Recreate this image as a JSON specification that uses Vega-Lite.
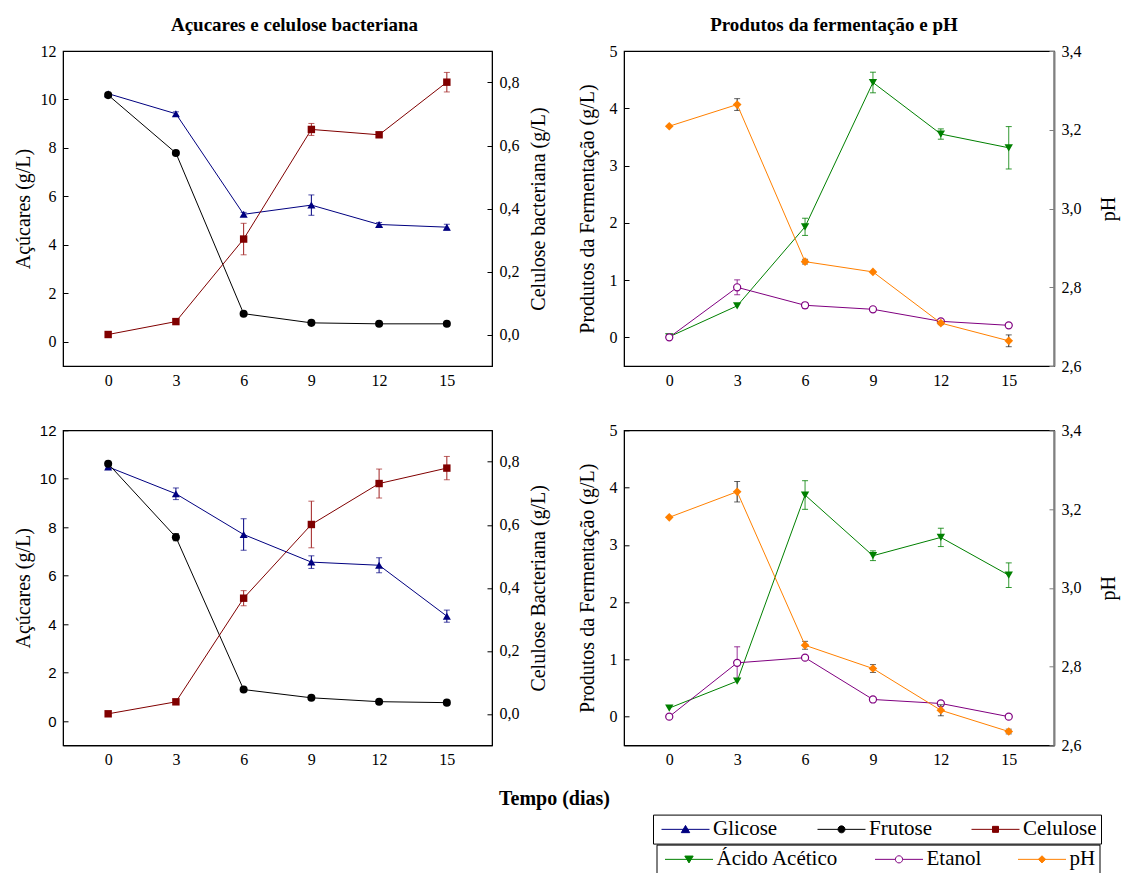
{
  "$schema": "https://vega.github.io/schema/vega-lite/v6.json",
  "padding": {"left": 12, "top": 15, "right": 5, "bottom": 5},
  "background": "white",
  "datasets": {
    "d": [
      {"conc":"7,5%","dia":0,"serie":"Glicose","valor":10.24,"erro":0.05},
      {"conc":"7,5%","dia":3,"serie":"Glicose","valor":9.41,"erro":0.08},
      {"conc":"7,5%","dia":6,"serie":"Glicose","valor":5.26,"erro":0.08},
      {"conc":"7,5%","dia":9,"serie":"Glicose","valor":5.64,"erro":0.42},
      {"conc":"7,5%","dia":12,"serie":"Glicose","valor":4.84,"erro":0.08},
      {"conc":"7,5%","dia":15,"serie":"Glicose","valor":4.73,"erro":0.12},
      {"conc":"7,5%","dia":0,"serie":"Frutose","valor":10.18,"erro":0.05},
      {"conc":"7,5%","dia":3,"serie":"Frutose","valor":7.79,"erro":0.06},
      {"conc":"7,5%","dia":6,"serie":"Frutose","valor":1.16,"erro":0.04},
      {"conc":"7,5%","dia":9,"serie":"Frutose","valor":0.78,"erro":0},
      {"conc":"7,5%","dia":12,"serie":"Frutose","valor":0.74,"erro":0},
      {"conc":"7,5%","dia":15,"serie":"Frutose","valor":0.74,"erro":0},
      {"conc":"7,5%","dia":0,"serie":"Celulose","valor":0.0,"erro":0},
      {"conc":"7,5%","dia":3,"serie":"Celulose","valor":0.041,"erro":0},
      {"conc":"7,5%","dia":6,"serie":"Celulose","valor":0.303,"erro":0.05},
      {"conc":"7,5%","dia":9,"serie":"Celulose","valor":0.651,"erro":0.019},
      {"conc":"7,5%","dia":12,"serie":"Celulose","valor":0.634,"erro":0.005},
      {"conc":"7,5%","dia":15,"serie":"Celulose","valor":0.801,"erro":0.031},
      {"conc":"7,5%","dia":0,"serie":"Ácido Acético","valor":0.01,"erro":0},
      {"conc":"7,5%","dia":3,"serie":"Ácido Acético","valor":0.55,"erro":0},
      {"conc":"7,5%","dia":6,"serie":"Ácido Acético","valor":1.93,"erro":0.15},
      {"conc":"7,5%","dia":9,"serie":"Ácido Acético","valor":4.45,"erro":0.18},
      {"conc":"7,5%","dia":12,"serie":"Ácido Acético","valor":3.55,"erro":0.09},
      {"conc":"7,5%","dia":15,"serie":"Ácido Acético","valor":3.31,"erro":0.37},
      {"conc":"7,5%","dia":0,"serie":"Etanol","valor":0.0,"erro":0},
      {"conc":"7,5%","dia":3,"serie":"Etanol","valor":0.874,"erro":0.13},
      {"conc":"7,5%","dia":6,"serie":"Etanol","valor":0.56,"erro":0.05},
      {"conc":"7,5%","dia":9,"serie":"Etanol","valor":0.49,"erro":0.04},
      {"conc":"7,5%","dia":12,"serie":"Etanol","valor":0.28,"erro":0.02},
      {"conc":"7,5%","dia":15,"serie":"Etanol","valor":0.21,"erro":0.02},
      {"conc":"7,5%","dia":0,"serie":"pH","valor":3.209,"erro":0},
      {"conc":"7,5%","dia":3,"serie":"pH","valor":3.264,"erro":0.015},
      {"conc":"7,5%","dia":6,"serie":"pH","valor":2.865,"erro":0.006},
      {"conc":"7,5%","dia":9,"serie":"pH","valor":2.839,"erro":0},
      {"conc":"7,5%","dia":12,"serie":"pH","valor":2.709,"erro":0.004},
      {"conc":"7,5%","dia":15,"serie":"pH","valor":2.664,"erro":0.015},
      {"conc":"10%","dia":0,"serie":"Glicose","valor":10.49,"erro":0.05},
      {"conc":"10%","dia":3,"serie":"Glicose","valor":9.38,"erro":0.24},
      {"conc":"10%","dia":6,"serie":"Glicose","valor":7.7,"erro":0.65},
      {"conc":"10%","dia":9,"serie":"Glicose","valor":6.56,"erro":0.26},
      {"conc":"10%","dia":12,"serie":"Glicose","valor":6.43,"erro":0.31},
      {"conc":"10%","dia":15,"serie":"Glicose","valor":4.33,"erro":0.25},
      {"conc":"10%","dia":0,"serie":"Frutose","valor":10.62,"erro":0},
      {"conc":"10%","dia":3,"serie":"Frutose","valor":7.59,"erro":0.15},
      {"conc":"10%","dia":6,"serie":"Frutose","valor":1.3,"erro":0.05},
      {"conc":"10%","dia":9,"serie":"Frutose","valor":0.96,"erro":0},
      {"conc":"10%","dia":12,"serie":"Frutose","valor":0.8,"erro":0},
      {"conc":"10%","dia":15,"serie":"Frutose","valor":0.76,"erro":0},
      {"conc":"10%","dia":0,"serie":"Celulose","valor":0.0,"erro":0},
      {"conc":"10%","dia":3,"serie":"Celulose","valor":0.038,"erro":0},
      {"conc":"10%","dia":6,"serie":"Celulose","valor":0.367,"erro":0.024},
      {"conc":"10%","dia":9,"serie":"Celulose","valor":0.601,"erro":0.074},
      {"conc":"10%","dia":12,"serie":"Celulose","valor":0.731,"erro":0.046},
      {"conc":"10%","dia":15,"serie":"Celulose","valor":0.78,"erro":0.037},
      {"conc":"10%","dia":0,"serie":"Ácido Acético","valor":0.15,"erro":0},
      {"conc":"10%","dia":3,"serie":"Ácido Acético","valor":0.62,"erro":0},
      {"conc":"10%","dia":6,"serie":"Ácido Acético","valor":3.87,"erro":0.25},
      {"conc":"10%","dia":9,"serie":"Ácido Acético","valor":2.81,"erro":0.085},
      {"conc":"10%","dia":12,"serie":"Ácido Acético","valor":3.13,"erro":0.16},
      {"conc":"10%","dia":15,"serie":"Ácido Acético","valor":2.47,"erro":0.215},
      {"conc":"10%","dia":0,"serie":"Etanol","valor":0.0,"erro":0},
      {"conc":"10%","dia":3,"serie":"Etanol","valor":0.94,"erro":0.28},
      {"conc":"10%","dia":6,"serie":"Etanol","valor":1.03,"erro":0.03},
      {"conc":"10%","dia":9,"serie":"Etanol","valor":0.3,"erro":0.03},
      {"conc":"10%","dia":12,"serie":"Etanol","valor":0.23,"erro":0.02},
      {"conc":"10%","dia":15,"serie":"Etanol","valor":0.0,"erro":0},
      {"conc":"10%","dia":0,"serie":"pH","valor":3.179,"erro":0},
      {"conc":"10%","dia":3,"serie":"pH","valor":3.244,"erro":0.026},
      {"conc":"10%","dia":6,"serie":"pH","valor":2.854,"erro":0.01},
      {"conc":"10%","dia":9,"serie":"pH","valor":2.795,"erro":0.01},
      {"conc":"10%","dia":12,"serie":"pH","valor":2.689,"erro":0.014},
      {"conc":"10%","dia":15,"serie":"pH","valor":2.635,"erro":0.006}
    ]
  },
  "data": {"name": "d"},
  "columns": 2,
  "spacing": {"row": 64.3, "column": 132},
  "bounds": "flush",
  "resolve": {"scale": {"color": "independent", "shape": "independent"}, "legend": {"color": "independent"}},
  "concat": [
    {
      "width": 429, "height": 315,
      "title": {"text": "Açucares e celulose bacteriana", "dx": 17, "offset": -7, "baseline": "alphabetic", "frame": "group", "anchor": "middle"},
      "encoding": {
        "x": {"field": "dia", "type": "quantitative", "scale": {"domain": [-2, 17], "nice": false, "zero": false},
              "axis": {"values": [0,3,6,9,12,15], "ticks": false, "labelPadding": 6, "title": null}}
      },
      "layer": [
        {
          "transform": [{"filter": "datum.conc === '7,5%' && (datum.serie === 'Glicose' || datum.serie === 'Frutose')"}],
          "encoding": {
            "y": {"field": "valor", "type": "quantitative", "scale": {"domain": [-1, 12], "nice": false, "zero": false},
                  "axis": {"orient": "left", "values": [0,2,4,6,8,10,12], "tickSize": -5, "labelPadding": 12, "title": "Açúcares (g/L)", "titleX": -40, "titleY": 157.5, "titleAngle": -90, "titleBaseline": "middle", "titleAlign": "center"}},
            "color": {"field": "serie", "type": "nominal", "scale": {"domain": ["Glicose","Frutose","Celulose"], "range": ["#000080","#000000","#800000"]}, "legend": null}
          },
          "layer": [
            {"transform": [{"filter": "datum.erro > 0"}], "mark": {"type": "errorbar", "ticks": {"size": 6}, "thickness": 1}, "encoding": {"yError": {"field": "erro"}}},
            {"mark": {"type": "line", "strokeWidth": 1}},
            {"mark": {"type": "point", "filled": true, "size": 65, "opacity": 1}, "encoding": {"shape": {"field": "serie", "type": "nominal", "scale": {"domain": ["Glicose","Frutose"], "range": ["triangle-up","circle"]}, "legend": null}}},
            {"data": {"values": [{"rotulo": "7,5%"}]}, "mark": {"type": "text", "align": "left", "baseline": "alphabetic", "fontSize": 20, "fontWeight": "bold", "font": "Liberation Serif"},
             "encoding": {"x": {"datum": -1.3}, "y": {"datum": 10.91}, "text": {"field": "rotulo"}, "color": {"value": "black"}}}
          ]
        },
        {
          "transform": [{"filter": "datum.conc === '7,5%' && datum.serie === 'Celulose'"}],
          "encoding": {
            "y": {"field": "valor", "type": "quantitative", "scale": {"domain": [-0.1, 0.9], "nice": false, "zero": false},
                  "axis": {"orient": "right", "values": [0,0.2,0.4,0.6,0.8], "format": ".1f", "labelExpr": "replace(datum.label, '.', ',')", "tickSize": -5, "labelPadding": 12, "title": "Celulose bacteriana (g/L)", "titleX": 46, "titleY": 157.5, "titleAngle": -90, "titleBaseline": "middle", "titleAlign": "center"}}
          },
          "layer": [
            {"transform": [{"filter": "datum.erro > 0"}], "mark": {"type": "errorbar", "ticks": {"size": 6}, "thickness": 1, "color": "#A02020"}, "encoding": {"yError": {"field": "erro"}}},
            {"mark": {"type": "line", "strokeWidth": 1, "color": "#800000"}},
            {"mark": {"type": "point", "filled": true, "size": 55, "shape": "square", "color": "#800000", "opacity": 1}}
          ]
        }
      ],
      "resolve": {"scale": {"y": "independent"}}
    },
    {
      "width": 430, "height": 315,
      "title": {"text": "Produtos da fermentação e pH", "dx": -5, "offset": -7, "baseline": "alphabetic", "frame": "group", "anchor": "middle"},
      "encoding": {
        "x": {"field": "dia", "type": "quantitative", "scale": {"domain": [-2, 17], "nice": false, "zero": false},
              "axis": {"values": [0,3,6,9,12,15], "ticks": false, "labelPadding": 6, "title": null}}
      },
      "layer": [
        {
          "transform": [{"filter": "datum.conc === '7,5%' && (datum.serie === 'Ácido Acético' || datum.serie === 'Etanol')"}],
          "encoding": {
            "y": {"field": "valor", "type": "quantitative", "scale": {"domain": [-0.5, 5], "nice": false, "zero": false},
                  "axis": {"orient": "left", "values": [0,1,2,3,4,5], "tickSize": -5, "labelPadding": 12, "title": "Produtos da Fermentação (g/L)", "titleX": -36.5, "titleY": 157.5, "titleAngle": -90, "titleBaseline": "middle", "titleAlign": "center"}},
            "color": {"field": "serie", "type": "nominal", "scale": {"domain": ["Ácido Acético","Etanol","pH"], "range": ["#008000","#800080","#FF8000"]}, "legend": null}
          },
          "layer": [
            {"transform": [{"filter": "datum.erro > 0"}], "mark": {"type": "errorbar", "ticks": {"size": 6}, "thickness": 1, "opacity": 0.8}, "encoding": {"yError": {"field": "erro"}}},
            {"mark": {"type": "line", "strokeWidth": 1}},
            {"transform": [{"filter": "datum.serie === 'Ácido Acético'"}], "mark": {"type": "point", "filled": true, "shape": "triangle-down", "size": 70, "opacity": 1}},
            {"transform": [{"filter": "datum.serie === 'Etanol'"}], "mark": {"type": "point", "filled": false, "fill": "white", "shape": "circle", "size": 50, "strokeWidth": 1.2, "opacity": 1}},
            {"data": {"values": [{"rotulo": "7,5%"}]}, "mark": {"type": "text", "align": "left", "baseline": "alphabetic", "fontSize": 20, "fontWeight": "bold", "font": "Liberation Serif"},
             "encoding": {"x": {"datum": -1.19}, "y": {"datum": 4.546}, "text": {"field": "rotulo"}, "color": {"value": "black"}}}
          ]
        },
        {
          "transform": [{"filter": "datum.conc === '7,5%' && datum.serie === 'pH'"}],
          "encoding": {
            "y": {"field": "valor", "type": "quantitative", "scale": {"domain": [2.6, 3.4], "nice": false, "zero": false},
                  "axis": {"orient": "right", "values": [2.6,2.8,3.0,3.2,3.4], "format": ".1f", "labelExpr": "replace(datum.label, '.', ',')", "tickSize": -5, "labelPadding": 12, "domainColor": "#808080", "domainWidth": 2, "tickColor": "#808080", "title": "pH", "titleX": 54, "titleY": 157.5, "titleAngle": -90, "titleBaseline": "middle", "titleAlign": "center"}}
          },
          "layer": [
            {"transform": [{"filter": "datum.erro > 0"}], "mark": {"type": "errorbar", "ticks": {"size": 6}, "thickness": 1, "color": "#222222"}, "encoding": {"yError": {"field": "erro"}}},
            {"mark": {"type": "line", "strokeWidth": 1, "color": "#FF8000"}},
            {"mark": {"type": "point", "filled": true, "size": 75, "shape": "diamond", "color": "#FF8000", "opacity": 1}}
          ]
        }
      ],
      "resolve": {"scale": {"y": "independent"}}
    },
    {
      "width": 429, "height": 315,
      "encoding": {
        "x": {"field": "dia", "type": "quantitative", "scale": {"domain": [-2, 17], "nice": false, "zero": false},
              "axis": {"values": [0,3,6,9,12,15], "ticks": false, "labelPadding": 6, "title": "Tempo (dias)", "titleX": 491, "titleY": 58.7, "titleBaseline": "alphabetic", "titleAlign": "center", "titleFontWeight": "bold", "titleFontSize": 20}}
      },
      "layer": [
        {
          "transform": [{"filter": "datum.conc === '10%' && (datum.serie === 'Glicose' || datum.serie === 'Frutose')"}],
          "encoding": {
            "y": {"field": "valor", "type": "quantitative", "scale": {"domain": [-1, 12], "nice": false, "zero": false},
                  "axis": {"orient": "left", "values": [0,2,4,6,8,10,12], "labelFont": "Liberation Sans", "labelFontSize": 15, "tickSize": -5, "labelPadding": 12, "title": "Açúcares (g/L)", "titleX": -40, "titleY": 157.5, "titleAngle": -90, "titleBaseline": "middle", "titleAlign": "center"}},
            "color": {"field": "serie", "type": "nominal", "scale": {"domain": ["Glicose","Frutose","Celulose"], "range": ["#000080","#000000","#800000"]},
              "legend": {"orient": "none", "legendX": 590, "legendY": 384.3, "direction": "horizontal", "title": null, "strokeColor": "black", "padding": 4,
                "labelFont": "Liberation Serif", "labelFontSize": 21, "labelColor": "black", "labelLimit": 300, "symbolSize": 144, "labelOffset": 35, "columnPadding": 35,
                "encode": {"symbols": {"update": {
                  "shape": {"signal": "datum.value === 'Glicose' ? 'M-1,0H7M3,-0.65L3.7,0.55L2.3,0.55Z' : datum.value === 'Frutose' ? 'M-1,0H7M3.58,0A0.58,0.58 0 1 1 2.42,0A0.58,0.58 0 1 1 3.58,0Z' : 'M-1,0H7M2.5,-0.5H3.5V0.5H2.5Z'"},
                  "fill": {"signal": "datum.value === 'Glicose' ? '#000080' : datum.value === 'Frutose' ? '#000000' : '#800000'"},
                  "stroke": {"signal": "datum.value === 'Glicose' ? '#000080' : datum.value === 'Frutose' ? '#000000' : '#800000'"},
                  "strokeWidth": {"value": 1}, "size": {"value": 144}, "opacity": {"value": 1}}}}}}
          },
          "layer": [
            {"transform": [{"filter": "datum.erro > 0"}], "mark": {"type": "errorbar", "ticks": {"size": 6}, "thickness": 1}, "encoding": {"yError": {"field": "erro"}}},
            {"mark": {"type": "line", "strokeWidth": 1}},
            {"mark": {"type": "point", "filled": true, "size": 65, "opacity": 1}, "encoding": {"shape": {"field": "serie", "type": "nominal", "scale": {"domain": ["Glicose","Frutose"], "range": ["triangle-up","circle"]}, "legend": null}}},
            {"data": {"values": [{"rotulo": "10%"}]}, "mark": {"type": "text", "align": "left", "baseline": "alphabetic", "fontSize": 20, "fontWeight": "bold", "font": "Liberation Serif"},
             "encoding": {"x": {"datum": -1.56}, "y": {"datum": 10.93}, "text": {"field": "rotulo"}, "color": {"value": "black"}}}
          ]
        },
        {
          "transform": [{"filter": "datum.conc === '10%' && datum.serie === 'Celulose'"}],
          "encoding": {
            "y": {"field": "valor", "type": "quantitative", "scale": {"domain": [-0.1, 0.9], "nice": false, "zero": false},
                  "axis": {"orient": "right", "values": [0,0.2,0.4,0.6,0.8], "format": ".1f", "labelExpr": "replace(datum.label, '.', ',')", "tickSize": -5, "labelPadding": 12, "title": "Celulose Bacteriana (g/L)", "titleX": 46, "titleY": 157.5, "titleAngle": -90, "titleBaseline": "middle", "titleAlign": "center"}}
          },
          "layer": [
            {"transform": [{"filter": "datum.erro > 0"}], "mark": {"type": "errorbar", "ticks": {"size": 6}, "thickness": 1, "color": "#A02020"}, "encoding": {"yError": {"field": "erro"}}},
            {"mark": {"type": "line", "strokeWidth": 1, "color": "#800000"}},
            {"mark": {"type": "point", "filled": true, "size": 55, "shape": "square", "color": "#800000", "opacity": 1}}
          ]
        }
      ],
      "resolve": {"scale": {"y": "independent"}}
    },
    {
      "width": 430, "height": 315,
      "encoding": {
        "x": {"field": "dia", "type": "quantitative", "scale": {"domain": [-2, 17], "nice": false, "zero": false},
              "axis": {"values": [0,3,6,9,12,15], "ticks": false, "labelPadding": 6, "title": null}}
      },
      "layer": [
        {
          "transform": [{"filter": "datum.conc === '10%' && (datum.serie === 'Ácido Acético' || datum.serie === 'Etanol')"}],
          "encoding": {
            "y": {"field": "valor", "type": "quantitative", "scale": {"domain": [-0.5, 5], "nice": false, "zero": false},
                  "axis": {"orient": "left", "values": [0,1,2,3,4,5], "tickSize": -5, "labelPadding": 12, "title": "Produtos da Fermentação (g/L)", "titleX": -36.5, "titleY": 157.5, "titleAngle": -90, "titleBaseline": "middle", "titleAlign": "center"}},
            "color": {"field": "serie", "type": "nominal", "scale": {"domain": ["Ácido Acético","Etanol","pH"], "range": ["#008000","#800080","#FF8000"]},
              "legend": {"orient": "none", "legendX": 32.5, "legendY": 414.3, "direction": "horizontal", "title": null, "strokeColor": "black", "padding": 4,
                "labelFont": "Liberation Serif", "labelFontSize": 21, "labelColor": "black", "labelLimit": 300, "symbolSize": 144, "labelOffset": 35, "columnPadding": 32,
                "encode": {"symbols": {"update": {
                  "shape": {"signal": "datum.value === 'Ácido Acético' ? 'M-1,0H7M3,0.6L3.7,-0.55L2.3,-0.55Z' : datum.value === 'Etanol' ? 'M-1,0H2.4M3.6,0H7M3.6,0A0.6,0.6 0 1 1 2.4,0A0.6,0.6 0 1 1 3.6,0Z' : 'M-1,0H7M3,-0.6L3.6,0L3,0.6L2.4,0Z'"},
                  "fill": {"signal": "datum.value === 'Ácido Acético' ? '#008000' : datum.value === 'Etanol' ? '#ffffff' : '#FF8000'"},
                  "fillOpacity": {"signal": "datum.value === 'Etanol' ? 0 : 1"},
                  "stroke": {"signal": "datum.value === 'Ácido Acético' ? '#008000' : datum.value === 'Etanol' ? '#800080' : '#FF8000'"},
                  "strokeWidth": {"value": 1}, "size": {"value": 144}, "opacity": {"value": 1}}}}}}
          },
          "layer": [
            {"transform": [{"filter": "datum.erro > 0"}], "mark": {"type": "errorbar", "ticks": {"size": 6}, "thickness": 1, "opacity": 0.8}, "encoding": {"yError": {"field": "erro"}}},
            {"mark": {"type": "line", "strokeWidth": 1}},
            {"transform": [{"filter": "datum.serie === 'Ácido Acético'"}], "mark": {"type": "point", "filled": true, "shape": "triangle-down", "size": 70, "opacity": 1}},
            {"transform": [{"filter": "datum.serie === 'Etanol'"}], "mark": {"type": "point", "filled": false, "fill": "white", "shape": "circle", "size": 50, "strokeWidth": 1.2, "opacity": 1}},
            {"data": {"values": [{"rotulo": "10%"}]}, "mark": {"type": "text", "align": "left", "baseline": "alphabetic", "fontSize": 20, "fontWeight": "bold", "font": "Liberation Serif"},
             "encoding": {"x": {"datum": -1.42}, "y": {"datum": 4.6}, "text": {"field": "rotulo"}, "color": {"value": "black"}}}
          ]
        },
        {
          "transform": [{"filter": "datum.conc === '10%' && datum.serie === 'pH'"}],
          "encoding": {
            "y": {"field": "valor", "type": "quantitative", "scale": {"domain": [2.6, 3.4], "nice": false, "zero": false},
                  "axis": {"orient": "right", "values": [2.6,2.8,3.0,3.2,3.4], "format": ".1f", "labelExpr": "replace(datum.label, '.', ',')", "tickSize": -5, "labelPadding": 12, "domainColor": "#808080", "domainWidth": 2, "tickColor": "#808080", "title": "pH", "titleX": 54, "titleY": 157.5, "titleAngle": -90, "titleBaseline": "middle", "titleAlign": "center"}}
          },
          "layer": [
            {"transform": [{"filter": "datum.erro > 0"}], "mark": {"type": "errorbar", "ticks": {"size": 6}, "thickness": 1, "color": "#222222"}, "encoding": {"yError": {"field": "erro"}}},
            {"mark": {"type": "line", "strokeWidth": 1, "color": "#FF8000"}},
            {"mark": {"type": "point", "filled": true, "size": 75, "shape": "diamond", "color": "#FF8000", "opacity": 1}}
          ]
        }
      ],
      "resolve": {"scale": {"y": "independent"}}
    }
  ],
  "config": {
    "view": {"stroke": "black", "strokeWidth": 1.2},
    "font": "Liberation Serif",
    "axis": {"grid": false, "labelFont": "Liberation Serif", "labelFontSize": 16, "labelColor": "black", "titleFont": "Liberation Serif", "titleFontSize": 20, "titleFontWeight": "normal", "titleColor": "black", "domainColor": "black", "tickColor": "black", "labelFlush": false, "labelOverlap": false},
    "title": {"font": "Liberation Serif", "fontSize": 19, "fontWeight": "bold", "color": "black"},
    "legend": {"labelFont": "Liberation Serif"}
  }
}
